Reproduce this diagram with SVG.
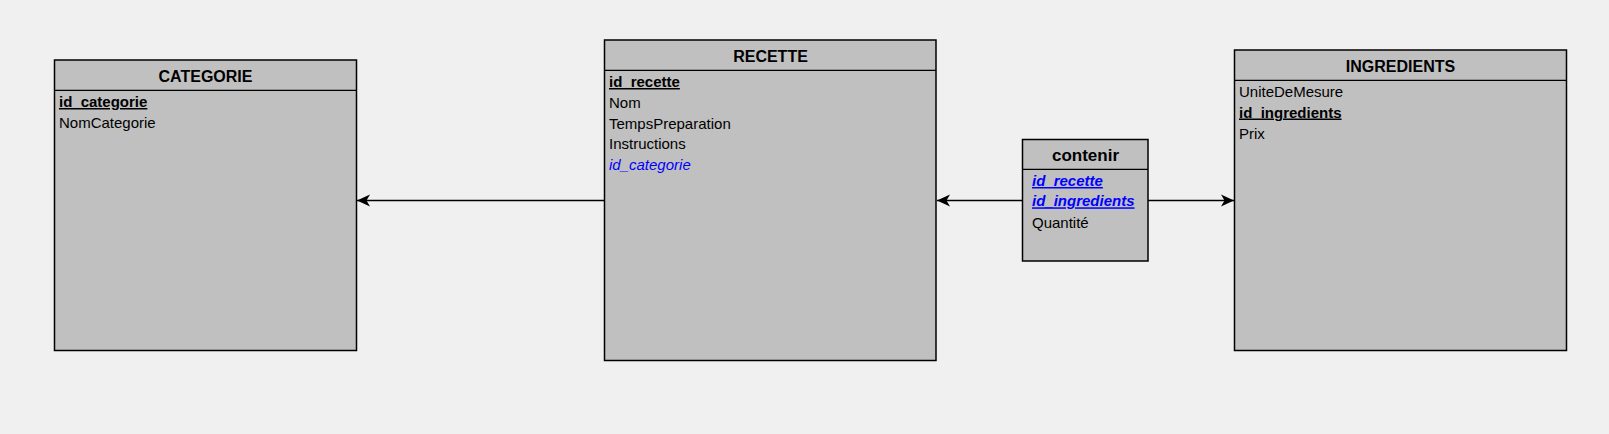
<svg xmlns="http://www.w3.org/2000/svg" width="1609" height="434" viewBox="0 0 1609 434">
<style>
.box{fill:#c0c0c0;stroke:#000;stroke-width:1.5}
.sep{stroke:#000;stroke-width:1.2}
.title{font-family:"Liberation Sans",Arial,sans-serif;font-size:16px;font-weight:bold;fill:#000;text-anchor:middle}
.f{font-family:"Liberation Sans",Arial,sans-serif;font-size:15px;fill:#000}
.pk{font-weight:bold;text-decoration:underline}
.fk{fill:#0000ff;font-style:italic}
.conn{stroke:#000;stroke-width:1.5;fill:none}
</style>
<defs>
<marker id="arr" markerUnits="userSpaceOnUse" markerWidth="16" markerHeight="14" refX="14" refY="7" orient="auto">
<path d="M14,7 L1,1 L4.5,7 L1,13 Z" fill="#000"/>
</marker>
</defs>
<rect width="1609" height="434" fill="#f0f0f0"/>
<g id="connectors">
<line class="conn" x1="604" y1="200.5" x2="357" y2="200.5" marker-end="url(#arr)"/>
<line class="conn" x1="1022" y1="200.5" x2="937" y2="200.5" marker-end="url(#arr)"/>
<line class="conn" x1="1148" y1="200.5" x2="1234" y2="200.5" marker-end="url(#arr)"/>
</g>
<g id="categorie">
<rect class="box" x="54.5" y="60" width="302" height="290.5"/>
<line class="sep" x1="54.5" y1="90.3" x2="356.5" y2="90.3"/>
<text class="title" x="205.5" y="82">CATEGORIE</text>
<text class="f pk" x="59" y="107">id_categorie</text>
<text class="f" x="59" y="127.5">NomCategorie</text>
</g>
<g id="recette">
<rect class="box" x="604.5" y="40" width="331.5" height="320.5"/>
<line class="sep" x1="604.5" y1="70.3" x2="936" y2="70.3"/>
<text class="title" x="770.5" y="62">RECETTE</text>
<text class="f pk" x="609" y="87">id_recette</text>
<text class="f" x="609" y="107.5">Nom</text>
<text class="f" x="609" y="128.5">TempsPreparation</text>
<text class="f" x="609" y="149.3">Instructions</text>
<text class="f fk" x="609" y="170">id_categorie</text>
</g>
<g id="contenir">
<rect class="box" x="1022.5" y="139.5" width="125.5" height="121.5"/>
<line class="sep" x1="1022.5" y1="169.3" x2="1148" y2="169.3"/>
<text class="title" x="1085.5" y="161" style="font-size:17px">contenir</text>
<text class="f pk fk" x="1032" y="186">id_recette</text>
<text class="f pk fk" x="1032" y="206.3">id_ingredients</text>
<text class="f" x="1032" y="227.5">Quantité</text>
</g>
<g id="ingredients">
<rect class="box" x="1234.5" y="50" width="332" height="300.5"/>
<line class="sep" x1="1234.5" y1="80.3" x2="1566.5" y2="80.3"/>
<text class="title" x="1400.5" y="72">INGREDIENTS</text>
<text class="f" x="1239" y="97">UniteDeMesure</text>
<text class="f pk" x="1239" y="117.5">id_ingredients</text>
<text class="f" x="1239" y="139">Prix</text>
</g>
</svg>
